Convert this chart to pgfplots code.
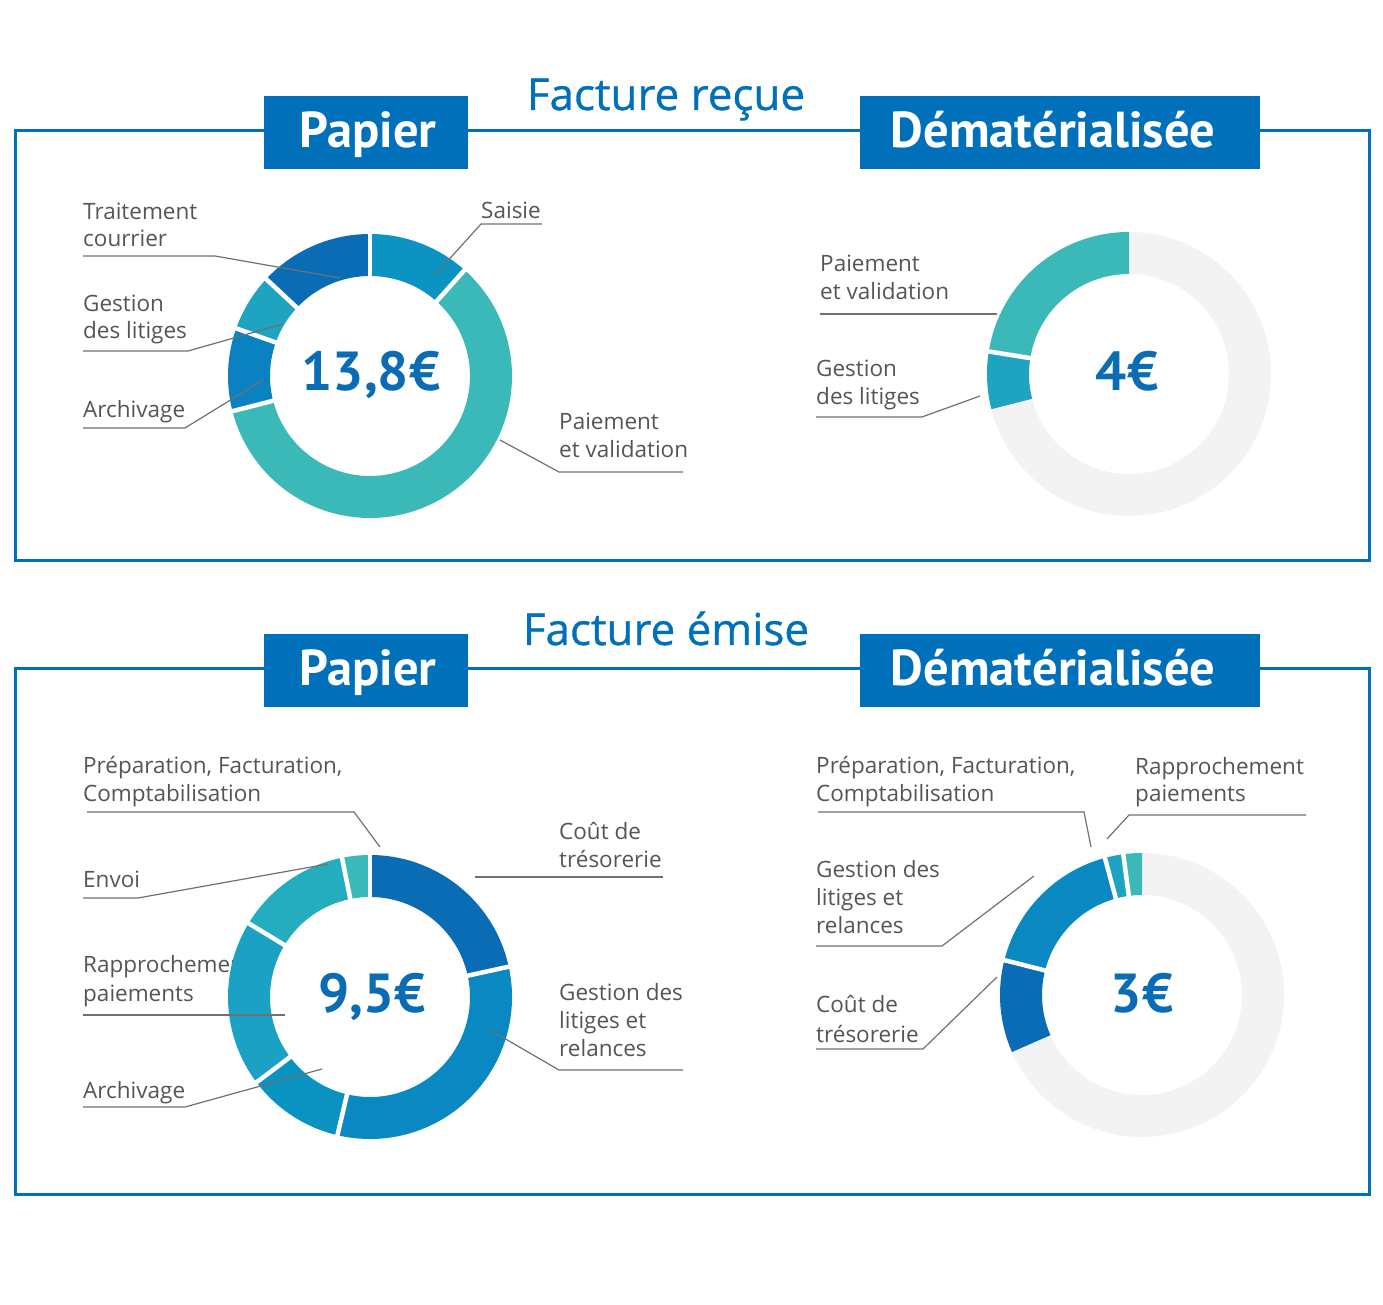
\documentclass[border=0pt]{standalone}
\usepackage{pgfplots}
\pgfplotsset{compat=1.18}
\usetikzlibrary{calc}
\usepackage{fontspec}
\setmainfont{Open Sans}
\newfontfamily\ptsans{PT Sans}
\newfontfamily\titlefont[FakeBold=0.8]{Open Sans}

\definecolor{frameblue}{HTML}{0070BA}
\definecolor{dblue}{HTML}{0A6CB5}
\definecolor{cSaisie}{HTML}{0B93C1}
\definecolor{cTeal}{HTML}{3BB9B8}
\definecolor{cArch}{HTML}{0A82C2}
\definecolor{cLit}{HTML}{1EA4C0}
\definecolor{cGest}{HTML}{0A88C2}
\definecolor{cArchB}{HTML}{0A93C0}
\definecolor{cRap}{HTML}{1AA1C4}
\definecolor{cEnv}{HTML}{23ADBE}
\definecolor{cGrey}{HTML}{F3F3F3}
\definecolor{labgray}{HTML}{555555}
\definecolor{leadgray}{HTML}{707070}

% cost per step (EUR), clockwise from the top for paper,
% counter-clockwise from the top for dematerialised (same scale as paper)
\def\RecuePapier{1.6/cSaisie,8.2/cTeal,1.3/cArch,0.9/cLit,1.8/dblue}
\def\RecueDemat{3.1/cTeal,0.9/cLit}
\def\EmisePapier{2.05/dblue,3.05/cGest,1.05/cArchB,1.8/cRap,1.25/cEnv,0.3/cTeal}
\def\EmiseDemat{0.2/cTeal,0.2/cLit,1.6/cGest,1.0/dblue}

\def\Ro{142}\def\Ri{100}
\def\Rout{146}\def\Rin{96}

% #1 cx, #2 cy (pixels from top), #3 degrees per euro, #4 list, #5 first separator skipped (0/1)
\newcommand\donut[5]{%
  \xdef\cum{90}%
  \foreach \v/\c in #4 {%
    \pgfmathsetmacro\b{\cum+(#3)*\v}%
    \edef\temp{\noexpand\fill[\c] ($(axis cs:#1,-#2)+(\cum:\Ro pt)$) arc[start angle=\cum, end angle=\b, radius=\Ro pt] -- ($(axis cs:#1,-#2)+(\b:\Ri pt)$) arc[start angle=\b, end angle=\cum, radius=\Ri pt] -- cycle;}%
    \temp
    \xdef\cum{\b}%
  }%
  \xdef\cum{90}%
  \foreach \v/\c [count=\i] in #4 {%
    \ifnum\i>#5\relax
      \edef\temp{\noexpand\draw[white, line width=4.5pt] ($(axis cs:#1,-#2)+(\cum:\Rin pt)$) -- ($(axis cs:#1,-#2)+(\cum:\Rout pt)$);}%
      \temp
    \fi
    \pgfmathsetmacro\b{\cum+(#3)*\v}%
    \xdef\cum{\b}%
  }%
}

\newcommand\labfont{\fontsize{22.5}{27}\selectfont}
\newcommand\lbl[3]{\node[anchor=base west, inner sep=0pt, font=\labfont, text=labgray] at (axis cs:#1,-#2) {#3};}
\newcommand\boxfont{\ptsans\bfseries\fontsize{50.5}{55}\selectfont}
\newcommand\numfont{\ptsans\bfseries\fontsize{55}{60}\selectfont}

\begin{document}
\begin{tikzpicture}
\begin{axis}[
  width=1383pt, height=1304pt, scale only axis,
  xmin=0, xmax=1383, ymin=-1304, ymax=0,
  hide axis, clip=false]
\path (axis cs:0,0) rectangle (axis cs:1383,-1304);

% frames
\draw[frameblue, line width=3pt] (axis cs:15,-131) rectangle (axis cs:1369,-561);
\draw[frameblue, line width=3pt] (axis cs:15,-669) rectangle (axis cs:1369,-1194);

% header boxes
\fill[frameblue] (axis cs:264,-96) rectangle (axis cs:468,-169);
\fill[frameblue] (axis cs:860,-96) rectangle (axis cs:1260,-169);
\fill[frameblue] (axis cs:264,-634) rectangle (axis cs:468,-707);
\fill[frameblue] (axis cs:860,-634) rectangle (axis cs:1260,-707);
\node[anchor=base, inner sep=0pt, text=white, font=\boxfont] at (axis cs:368,-148) {Papier};
\node[anchor=base, inner sep=0pt, text=white, font=\boxfont] at (axis cs:1053,-148) {Dématérialisée};
\node[anchor=base, inner sep=0pt, text=white, font=\boxfont] at (axis cs:368,-686) {Papier};
\node[anchor=base, inner sep=0pt, text=white, font=\boxfont] at (axis cs:1053,-686) {Dématérialisée};

% titles
\node[anchor=base, inner sep=0pt, text=frameblue, font=\titlefont\fontsize{44}{50}\selectfont] at (axis cs:666,-110) {Facture reçue};
\node[anchor=base, inner sep=0pt, text=frameblue, font=\titlefont\fontsize{44}{50}\selectfont] at (axis cs:666,-645) {Facture émise};

% labels, facture reçue
\lbl{83}{220}{Traitement}
\lbl{83}{247}{courrier}
\lbl{481}{219}{Saisie}
\lbl{83}{312}{Gestion}
\lbl{83}{339}{des litiges}
\lbl{83}{418}{Archivage}
\lbl{559}{430}{Paiement}
\lbl{559}{458}{et validation}
\lbl{820}{272}{Paiement}
\lbl{820}{300}{et validation}
\lbl{816}{377}{Gestion}
\lbl{816}{405}{des litiges}

% labels, facture émise
\lbl{83}{774}{Préparation, Facturation,}
\lbl{83}{802}{Comptabilisation}
\lbl{559}{840}{Coût de}
\lbl{559}{868}{trésorerie}
\lbl{83}{888}{Envoi}
\lbl{83}{973}{Rapprochement}
\lbl{83}{1002}{paiements}
\lbl{559}{1000}{Gestion des}
\lbl{559}{1028}{litiges et}
\lbl{559}{1056}{relances}
\lbl{83}{1098}{Archivage}
\lbl{816}{774}{Préparation, Facturation,}
\lbl{816}{802}{Comptabilisation}
\lbl{1135}{775}{Rapprochement}
\lbl{1135}{802}{paiements}
\lbl{816}{878}{Gestion des}
\lbl{816}{906}{litiges et}
\lbl{816}{934}{relances}
\lbl{816}{1013}{Coût de}
\lbl{816}{1042}{trésorerie}

% donuts
\fill[cGrey, even odd rule] (axis cs:1129,-374) circle[radius=\Ro pt] circle[radius=\Ri pt];
\fill[cGrey, even odd rule] (axis cs:1142,-995) circle[radius=\Ro pt] circle[radius=\Ri pt];
\donut{370}{376}{-360/13.8}{\RecuePapier}{0}
\donut{1129}{374}{360/13.8}{\RecueDemat}{1}
\donut{370}{997}{-360/9.5}{\EmisePapier}{0}
\donut{1142}{995}{360/9.5}{\EmiseDemat}{1}

% leader lines
\begin{scope}[leadgray, line width=1.2pt]
\draw (axis cs:83,-256) -- (axis cs:215,-256) -- (axis cs:340,-278);
\draw (axis cs:542,-224) -- (axis cs:481,-224) -- (axis cs:435,-275);
\draw (axis cs:83,-351) -- (axis cs:188,-351) -- (axis cs:283,-324);
\draw (axis cs:83,-428) -- (axis cs:185,-428) -- (axis cs:263,-380);
\draw (axis cs:683,-472) -- (axis cs:559,-472) -- (axis cs:500,-440);
\draw (axis cs:820,-314) -- (axis cs:997,-314);
\draw (axis cs:816,-417) -- (axis cs:922,-417) -- (axis cs:980,-396);
\draw (axis cs:87,-812) -- (axis cs:354,-812) -- (axis cs:380,-847);
\draw (axis cs:475,-877) -- (axis cs:663,-877);
\draw (axis cs:83,-898) -- (axis cs:138,-898) -- (axis cs:328,-864);
\draw (axis cs:83,-1015) -- (axis cs:285,-1015);
\draw (axis cs:683,-1070) -- (axis cs:559,-1070) -- (axis cs:490,-1030);
\draw (axis cs:83,-1107) -- (axis cs:185,-1107) -- (axis cs:322,-1069);
\draw (axis cs:818,-812) -- (axis cs:1084,-812) -- (axis cs:1091,-847);
\draw (axis cs:1306,-815) -- (axis cs:1129,-815) -- (axis cs:1107,-839);
\draw (axis cs:816,-946) -- (axis cs:942,-946) -- (axis cs:1034,-876);
\draw (axis cs:816,-1049) -- (axis cs:923,-1049) -- (axis cs:997,-977);
\end{scope}

% totals
\node[anchor=base, inner sep=0pt, text=dblue, font=\numfont] at (axis cs:371,-391) {13,8€};
\node[anchor=base, inner sep=0pt, text=dblue, font=\numfont] at (axis cs:1127,-391) {4€};
\node[anchor=base, inner sep=0pt, text=dblue, font=\numfont] at (axis cs:372,-1012) {9,5€};
\node[anchor=base, inner sep=0pt, text=dblue, font=\numfont] at (axis cs:1142,-1012) {3€};
\end{axis}
\end{tikzpicture}
\end{document}
